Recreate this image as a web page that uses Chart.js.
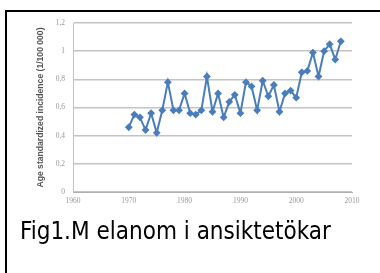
<!DOCTYPE html>
<html>
<head>
<meta charset="utf-8">
<script src="https://cdn.jsdelivr.net/npm/chart.js@4/dist/chart.umd.min.js"></script>
<style>
  html, body { margin: 0; padding: 0; background: #fff; }
  #wrap { position: relative; width: 380px; height: 273px; overflow: hidden; }
  #frame { position: absolute; left: 5px; top: 10px; width: 400px; height: 300px;
           border-left: 2px solid #000; border-top: 2px solid #000; }
  #chart { position: absolute; left: 0; top: 0; }
  #caption { position: absolute; left: 20px; top: 216px; font-family: "Liberation Sans Narrow", "DejaVu Sans Condensed", sans-serif;
             font-size: 25px; color: #000; white-space: pre; transform: scaleX(0.96); transform-origin: left top; }
</style>
</head>
<body>
<div id="wrap">
  <div id="frame"></div>
  <canvas id="chart" width="380" height="273"></canvas>
  <div id="caption">Fig1.M elanom i ansiktetökar</div>
</div>
<script>
// Data
const years = [1970, 1971, 1972, 1973, 1974, 1975, 1976, 1977, 1978, 1979,
  1980, 1981, 1982, 1983, 1984, 1985, 1986, 1987, 1988, 1989,
  1990, 1991, 1992, 1993, 1994, 1995, 1996, 1997, 1998, 1999,
  2000, 2001, 2002, 2003, 2004, 2005, 2006, 2007, 2008]
const incidence = [0.46, 0.55, 0.53, 0.44, 0.56, 0.42, 0.58, 0.78, 0.58, 0.58,
  0.70, 0.56, 0.55, 0.58, 0.82, 0.57, 0.70, 0.53, 0.64, 0.69,
  0.56, 0.78, 0.75, 0.58, 0.79, 0.68, 0.76, 0.57, 0.70, 0.72,
  0.67, 0.85, 0.86, 0.99, 0.82, 1.00, 1.05, 0.94, 1.07]
const yTitle = 'Age standardized incidence (1/100 000)'

const ctx = document.querySelector('#chart').getContext('2d')

new Chart(ctx, {
  type: 'line',
  data: {
    datasets: [
      {
        data: years.map((y, i) => ({ x: y, y: incidence[i] })),
        borderColor: '#4a7ebb',
        backgroundColor: '#4a7ebb',
        borderWidth: 2,
        pointStyle: 'rectRot',
        pointRadius: 2.5,
        tension: 0
      }
    ]
  },
  options: {
    responsive: false,
    animation: false,
    layout: { padding: { left: 0, right: 28, top: 23, bottom: 0 } },
    plugins: {
      legend: { display: false },
      tooltip: { enabled: false }
    },
    scales: {
      x: {
        type: 'linear',
        min: 1960,
        max: 2010,
        afterFit: scale => { scale.height = 81 },
        ticks: {
          stepSize: 10,
          color: '#999',
          font: { family: 'Liberation Serif', size: 7.5 },
          padding: 2,
          callback: v => String(v)
        },
        grid: { display: false, drawTicks: true, tickLength: 3, color: '#b0b0b0' },
        border: { color: '#b0b0b0', width: 1 }
      },
      y: {
        min: 0,
        max: 1.2,
        afterFit: scale => { scale.width = 73 },
        ticks: {
          stepSize: 0.2,
          color: '#999',
          font: { family: 'Liberation Serif', size: 7.5 },
          padding: 8,
          callback: v => String(Math.round(v * 10) / 10).replace('.', ',')
        },
        title: {
          display: true,
          text: yTitle,
          color: '#555',
          font: { family: 'Liberation Sans', size: 8.6, weight: 'bold' },
          padding: { top: 35, bottom: 0 }
        },
        grid: { color: '#c4c4c4', lineWidth: 1.5, drawTicks: false },
        border: { color: '#c4c4c4', width: 1 }
      }
    }
  }
})
</script>
</body>
</html>
